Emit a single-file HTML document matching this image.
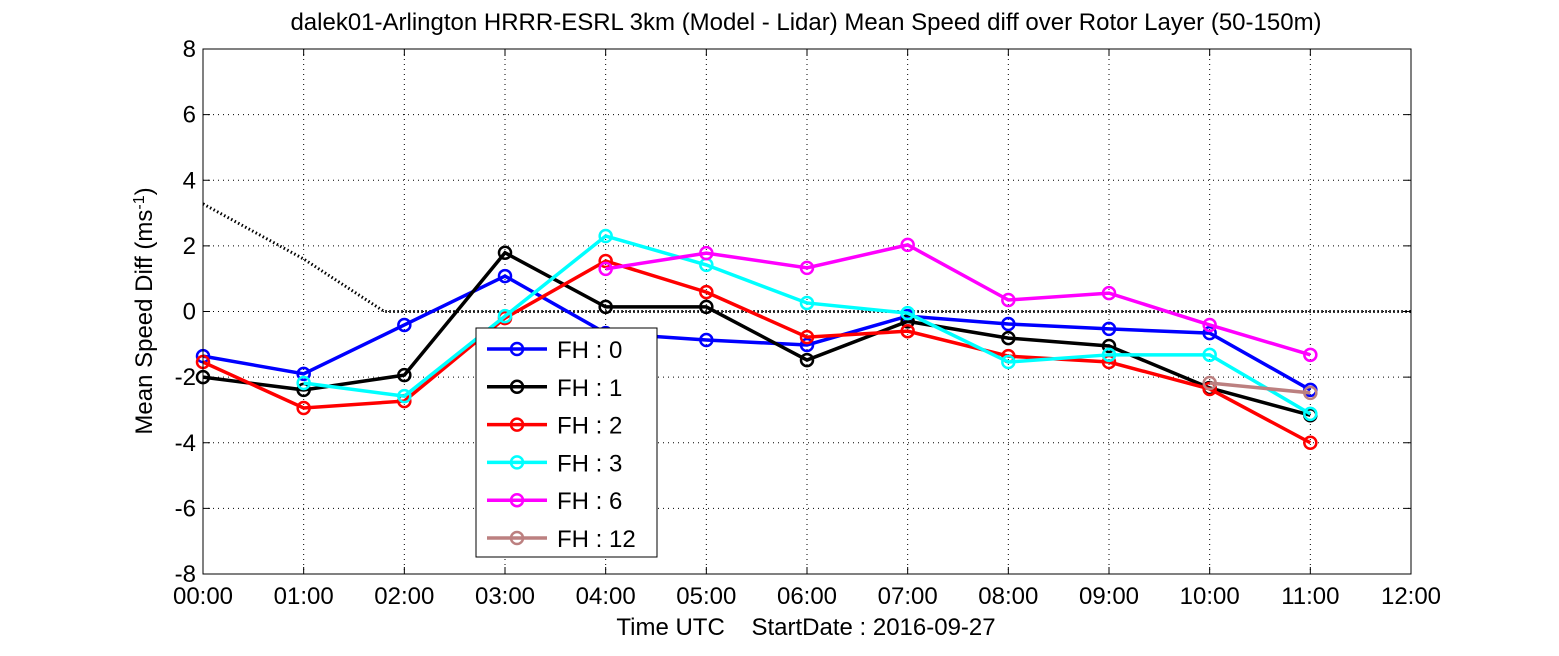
<!DOCTYPE html>
<html><head><meta charset="utf-8"><style>
body{margin:0;background:#fff}
svg{display:block;font-family:"Liberation Sans",sans-serif}
</style></head><body>
<svg id="chart" width="1559" height="656" viewBox="0 0 1559 656">
<rect width="1559" height="656" fill="#fff"/>
<text x="806" y="30" font-size="24" text-anchor="middle">dalek01-Arlington HRRR-ESRL 3km (Model - Lidar) Mean Speed diff over Rotor Layer (50-150m)</text>
<g id="grid"></g><g id="series"></g><g id="axes"></g><g id="legend"></g>
<text x="806" y="635" font-size="24" text-anchor="middle">Time UTC&#160;&#160;&#160;&#160;StartDate : 2016-09-27</text>
<text transform="translate(152,311) rotate(-90)" font-size="24" text-anchor="middle">Mean Speed Diff (ms<tspan baseline-shift="super" font-size="16">-1</tspan>)</text>
</svg>
<script>
const xTicks=["00:00","01:00","02:00","03:00","04:00","05:00","06:00","07:00","08:00","09:00","10:00","11:00","12:00"];
const yTicks=[-8,-6,-4,-2,0,2,4,6,8];
const seriesNames=["FH : 0","FH : 1","FH : 2","FH : 3","FH : 6","FH : 12"];
const seriesColors=["#0000ff","#000000","#ff0000","#00ffff","#ff00ff","#bc8080"];
const hoursFH0=[0,1,2,3,4,5,6,7,8,9,10,11];
const valsFH0=[-1.36,-1.9,-0.41,1.08,-0.66,-0.87,-1.02,-0.14,-0.38,-0.53,-0.66,-2.39];
const hoursFH1=[0,1,2,3,4,5,6,7,8,9,10,11];
const valsFH1=[-2.0,-2.39,-1.94,1.79,0.14,0.14,-1.48,-0.3,-0.81,-1.05,-2.33,-3.16];
const hoursFH2=[0,1,2,3,4,5,6,7,8,9,10,11];
const valsFH2=[-1.54,-2.94,-2.73,-0.2,1.54,0.59,-0.78,-0.6,-1.36,-1.54,-2.36,-4.0];
const hoursFH3=[1,2,3,4,5,6,7,8,9,10,11];
const valsFH3=[-2.18,-2.58,-0.14,2.3,1.42,0.26,-0.05,-1.54,-1.32,-1.32,-3.12];
const hoursFH6=[4,5,6,7,8,9,10,11];
const valsFH6=[1.3,1.78,1.33,2.03,0.35,0.56,-0.41,-1.32];
const hoursFH12=[10,11];
const valsFH12=[-2.18,-2.48];
const refHours=[0,1,1.8,12];
const refVals=[3.28,1.6,0,0];
const X0=203,X1=1411,Y0=574,Y1=49;
const xs=h=>X0+(X1-X0)*h/12;
const ys=v=>Y0-(Y0-Y1)*(v+8)/16;
const NS="http://www.w3.org/2000/svg";
function mk(tag,attrs,parent){const e=document.createElementNS(NS,tag);for(const k in attrs)e.setAttribute(k,attrs[k]);parent.appendChild(e);return e;}
const grid=document.getElementById('grid'),axes=document.getElementById('axes'),ser=document.getElementById('series'),leg=document.getElementById('legend');
xTicks.forEach((t,i)=>{const x=xs(i);
 if(i>0&&i<12){const l=mk('line',{x1:x,x2:x,y1:Y1,y2:Y0,stroke:'#000','stroke-width':1,'stroke-dasharray':'1 4'},grid);}
 const tk=mk('line',{x1:x,x2:x,y1:Y0,y2:Y0-7,stroke:'#000'},axes);
 const tk2=mk('line',{x1:x,x2:x,y1:Y1,y2:Y1+7,stroke:'#000'},axes);
 const tx=mk('text',{x:x,y:604,'font-size':24,'text-anchor':'middle'},axes);tx.textContent=t;});
yTicks.forEach(v=>{const y=ys(v);
 if(v>-8&&v<8){const l=mk('line',{x1:X0,x2:X1,y1:y,y2:y,stroke:'#000','stroke-width':1,'stroke-dasharray':'1 4'},grid);}
 const tk=mk('line',{x1:X0,x2:X0+7,y1:y,y2:y,stroke:'#000'},axes);
 const tk2=mk('line',{x1:X1,x2:X1-7,y1:y,y2:y,stroke:'#000'},axes);
 const tx=mk('text',{x:X0-7,y:y+8,'font-size':24,'text-anchor':'end'},axes);tx.textContent=v;});
const frame=mk('rect',{x:X0,y:Y1,width:X1-X0,height:Y0-Y1,fill:'none',stroke:'#000','stroke-width':1},axes);

const ref=mk('polyline',{points:refHours.map((h,i)=>xs(h)+','+ys(refVals[i])).join(' '),fill:'none',stroke:'#000','stroke-width':3,'stroke-dasharray':'1.5 2.5'},ser);

const H=[hoursFH0,hoursFH1,hoursFH2,hoursFH3,hoursFH6,hoursFH12],V=[valsFH0,valsFH1,valsFH2,valsFH3,valsFH6,valsFH12];
H.forEach((hs,s)=>{const g=mk('g',{},ser);
 const pl=mk('polyline',{points:hs.map((h,i)=>xs(h)+','+ys(V[s][i])).join(' '),fill:'none',stroke:seriesColors[s],'stroke-width':3.5},g);
 
 hs.forEach((h,i)=>{const c=mk('circle',{cx:xs(h),cy:ys(V[s][i]),r:6,fill:'none',stroke:seriesColors[s],'stroke-width':2.5},g);
  });});
const box=mk('rect',{x:476,y:328,width:181,height:229,fill:'#fff',stroke:'#000','stroke-width':1},leg);

seriesNames.forEach((n,i)=>{const y=349+i*37.8;const g=mk('g',{},leg);
 mk('line',{x1:487,x2:547,y1:y,y2:y,stroke:seriesColors[i],'stroke-width':3.5},g);
 mk('circle',{cx:517,cy:y,r:6,fill:'none',stroke:seriesColors[i],'stroke-width':2.5},g);
 const t=mk('text',{x:557,y:y+9,'font-size':24},g);t.textContent=n;});
</script>
</body></html>
